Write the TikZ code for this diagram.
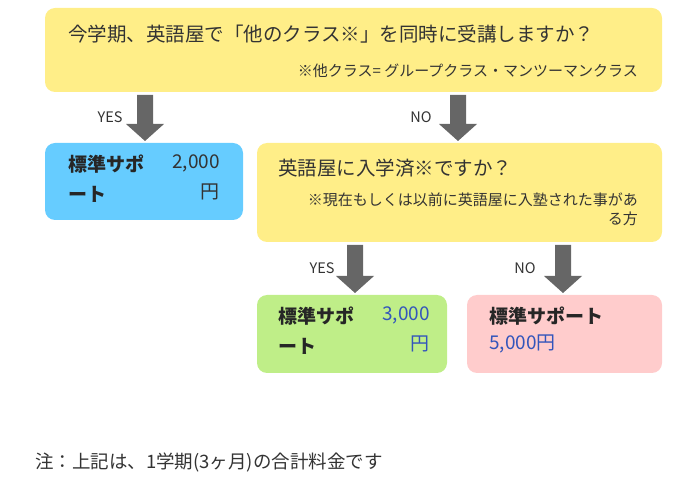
\documentclass[tikz,border=0pt]{standalone}
\usepackage{fontspec}
\newfontfamily\jp{Noto Sans CJK JP}
\definecolor{yel}{HTML}{FFEE88}
\definecolor{blu}{HTML}{66CCFF}
\definecolor{grn}{HTML}{BFEE88}
\definecolor{pnk}{HTML}{FFCCCC}
\definecolor{arr}{HTML}{666666}
\definecolor{txt}{HTML}{333333}
\definecolor{num}{HTML}{3355BB}
\begin{document}
\begin{tikzpicture}[x=1pt,y=-1pt,
  box/.style={rounded corners=10pt},
  t/.style={font=\jp\fontsize{19.5}{24}\selectfont,text=txt,inner sep=0pt,anchor=west},
  s/.style={font=\jp\fontsize{15}{19}\selectfont,text=txt,inner sep=0pt},
  lab/.style={font=\jp\fontsize{14.5}{16}\selectfont,text=txt,inner sep=0pt},
  bl/.style={font=\jp\bfseries\fontsize{19}{30}\selectfont,text=black!85,inner sep=0pt,anchor=north west,align=left},
  nm/.style={font=\jp\fontsize{19}{30}\selectfont,inner sep=0pt,anchor=north east,align=right}]
\useasboundingbox (0,0) rectangle (686,486);
\fill[yel,box] (45,8) rectangle (662,92);
\fill[blu,box] (45,143) rectangle (243,220);
\fill[yel,box] (257,143) rectangle (662,242);
\fill[grn,box] (257,295) rectangle (447,373);
\fill[pnk,box] (467,295) rectangle (662,373);
\node[t] (q1) at (68,34) {今学期、英語屋で「他のクラス※」を同時に受講しますか？};
\node[s,anchor=east] (n1) at (638,71) {※他クラス= グループクラス・マンツーマンクラス};
\node[t] (q2) at (278,168) {英語屋に入学済※ですか？};
\node[s,anchor=north east,align=right] (n2) at (638,193) {※現在もしくは以前に英語屋に入塾された事があ\\る方};
\node[bl] (a1) at (68,155) {標準サポ\\ート};
\node[nm,text=txt] (p1) at (220,155) {2,000\\円};
\node[bl] (a2) at (278,307) {標準サポ\\ート};
\node[nm,text=num] (p2) at (430,307) {3,000\\円};
\node[bl] (a3) at (489,307) {標準サポート};
\node[font=\jp\fontsize{19}{24}\selectfont,text=num,inner sep=0pt,anchor=north west] (p3) at (489,335) {5,000円};
\foreach \x/\ya/\yb in {145/95/141, 458/95/141, 355/245/293, 563/245/293}{
  \fill[arr] (\x-8,\ya) -- (\x+8,\ya) -- (\x+8,\yb-17) -- (\x+19,\yb-17) -- (\x,\yb) -- (\x-19,\yb-17) -- (\x-8,\yb-17) -- cycle;}
\node[lab] (y1) at (110,117) {YES};
\node[lab] (o1) at (421,117) {NO};
\node[lab] (y2) at (322,268) {YES};
\node[lab] (o2) at (525,268) {NO};
\node[font=\jp\fontsize{18.5}{22}\selectfont,text=txt,inner sep=0pt,anchor=west] (f) at (35,462) {注：上記は、1学期(3ヶ月)の合計料金です};
\end{tikzpicture}
\end{document}
